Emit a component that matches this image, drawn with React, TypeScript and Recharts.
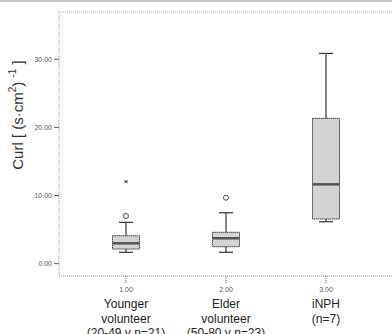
import React from 'react';
import {
  ComposedChart,
  XAxis,
  YAxis,
  Scatter,
  ReferenceArea,
  ReferenceLine,
} from 'recharts';

// group positions on the numeric x axis and their labels
const groupPositions = [1, 2, 3];
const groupLabels = [
  ['Younger', 'volunteer', '(20-49 y n=21)'],
  ['Elder', 'volunteer', '(50-80 y n=23)'],
  ['iNPH', '(n=7)'],
];

// box plot statistics per group
const whiskerLow = [1.66, 1.66, 6.15];
const quartile1 = [2.14, 2.48, 6.55];
const medians = [2.98, 3.72, 11.64];
const quartile3 = [4.1, 4.6, 21.33];
const whiskerHigh = [6.06, 7.47, 30.87];

// outliers (circles) and extremes (stars)
const outlierPoints = [
  { x: 1, y: 6.99 },
  { x: 2, y: 9.68 },
];
const extremePoints = [{ x: 1, y: 12.03 }];

const yTicks = [0, 10, 20, 30];
const xTicks = [1, 2, 3];

const FONT = '"Liberation Sans", Arial, sans-serif';
const BOX_HALF = 0.135;
const CAP_HALF = 0.07;
const Y_TOP = 36.95;

const XTick = (props: any) => {
  const { x, y, payload } = props;
  const idx = groupPositions.indexOf(payload.value);
  const lines = idx >= 0 ? groupLabels[idx] : [];
  return (
    <g>
      <line x1={x} y1={y} x2={x} y2={y + 7} stroke="#555" strokeDasharray="1 1" />
      <text x={x} y={y + 15.5} textAnchor="middle" fontSize={7} fill="#555" fontFamily={FONT}>
        {Number(payload.value).toFixed(2)}
      </text>
      {lines.map((l, i) => (
        <text key={i} x={x} y={y + 32 + i * 14.5} textAnchor="middle" fontSize={12} fill="#222" fontFamily={FONT}>
          {l}
        </text>
      ))}
    </g>
  );
};

const YLabel = (props: any) => {
  const { viewBox } = props;
  const cx = viewBox.x + 17;
  const cy = viewBox.y + viewBox.height / 2 - 29;
  return (
    <text
      x={cx}
      y={cy}
      transform={`rotate(-90 ${cx} ${cy})`}
      textAnchor="middle"
      dominantBaseline="central"
      fontSize={15}
      fill="#333"
      fontFamily={FONT}
    >
      Curl [ (s·cm
      <tspan dy={-5} fontSize={10}>2</tspan>
      <tspan dy={5}>) </tspan>
      <tspan dy={-5} fontSize={10}>-1</tspan>
      <tspan dy={5}> ]</tspan>
    </text>
  );
};

const CircleShape = (props: any) => (
  <circle cx={props.cx} cy={props.cy} r={2.5} fill="#fff" stroke="#444" strokeWidth={1} />
);

const StarShape = (props: any) => {
  const { cx, cy } = props;
  return (
    <g stroke="#555" strokeWidth={0.9}>
      <line x1={cx - 2} y1={cy} x2={cx + 2} y2={cy} />
      <line x1={cx - 1.3} y1={cy - 1.7} x2={cx + 1.3} y2={cy + 1.7} />
      <line x1={cx - 1.3} y1={cy + 1.7} x2={cx + 1.3} y2={cy - 1.7} />
    </g>
  );
};

const App = () => {
  return (
    <div style={{ position: 'absolute', left: 0, top: 0, width: 392, height: 334, background: '#fff', overflow: 'hidden' }}>
      <style>{'html, body { margin: 0; overflow: hidden; }'}</style>
      <div style={{ position: 'absolute', left: 0, top: 0, width: 392, height: 2, background: '#c9c9c9' }} />
      <ComposedChart width={392} height={334} margin={{ top: 12, right: 0, bottom: 0, left: 0 }}>
        <XAxis
          type="number"
          dataKey="x"
          domain={[0.33, 3.66]}
          ticks={xTicks}
          allowDataOverflow
          height={58}
          tickLine={false}
          tickSize={0}
          tickMargin={0}
          axisLine={{ stroke: '#999', strokeDasharray: '1 1' }}
          tick={<XTick />}
        />
        <YAxis
          type="number"
          dataKey="y"
          domain={[-1.82, Y_TOP]}
          ticks={yTicks}
          allowDataOverflow
          width={59}
          tickSize={5}
          tickMargin={2}
          tickLine={{ stroke: '#666' }}
          axisLine={{ stroke: '#999', strokeDasharray: '1 1' }}
          tick={{ fontSize: 7, fill: '#555', fontFamily: FONT }}
          tickFormatter={(v: number) => v.toFixed(2)}
          label={<YLabel />}
        />
        <ReferenceLine y={Y_TOP} stroke="#aaa" strokeDasharray="1 1" ifOverflow="visible" />

        {groupPositions.map((p, i) => (
          <ReferenceLine
            key={`wl${i}`}
            segment={[{ x: p, y: whiskerLow[i] }, { x: p, y: quartile1[i] }]}
            stroke="#333"
            strokeWidth={1.2}
          />
        ))}
        {groupPositions.map((p, i) => (
          <ReferenceLine
            key={`wh${i}`}
            segment={[{ x: p, y: quartile3[i] }, { x: p, y: whiskerHigh[i] }]}
            stroke="#333"
            strokeWidth={1.2}
          />
        ))}
        {groupPositions.map((p, i) => (
          <ReferenceLine
            key={`cl${i}`}
            segment={[{ x: p - CAP_HALF, y: whiskerLow[i] }, { x: p + CAP_HALF, y: whiskerLow[i] }]}
            stroke="#333"
            strokeWidth={1.2}
          />
        ))}
        {groupPositions.map((p, i) => (
          <ReferenceLine
            key={`ch${i}`}
            segment={[{ x: p - CAP_HALF, y: whiskerHigh[i] }, { x: p + CAP_HALF, y: whiskerHigh[i] }]}
            stroke="#333"
            strokeWidth={1.2}
          />
        ))}
        {groupPositions.map((p, i) => (
          <ReferenceArea
            key={`box${i}`}
            x1={p - BOX_HALF}
            x2={p + BOX_HALF}
            y1={quartile1[i]}
            y2={quartile3[i]}
            fill="#d3d3d3"
            fillOpacity={1}
            stroke="#444"
            strokeWidth={1}
            strokeDasharray="1.5 0.5"
          />
        ))}
        {groupPositions.map((p, i) => (
          <ReferenceLine
            key={`med${i}`}
            segment={[{ x: p - BOX_HALF, y: medians[i] }, { x: p + BOX_HALF, y: medians[i] }]}
            stroke="#555"
            strokeWidth={2.5}
          />
        ))}

        <Scatter data={outlierPoints} shape={<CircleShape />} isAnimationActive={false} />
        <Scatter data={extremePoints} shape={<StarShape />} isAnimationActive={false} />
      </ComposedChart>
    </div>
  );
};

export default App;
